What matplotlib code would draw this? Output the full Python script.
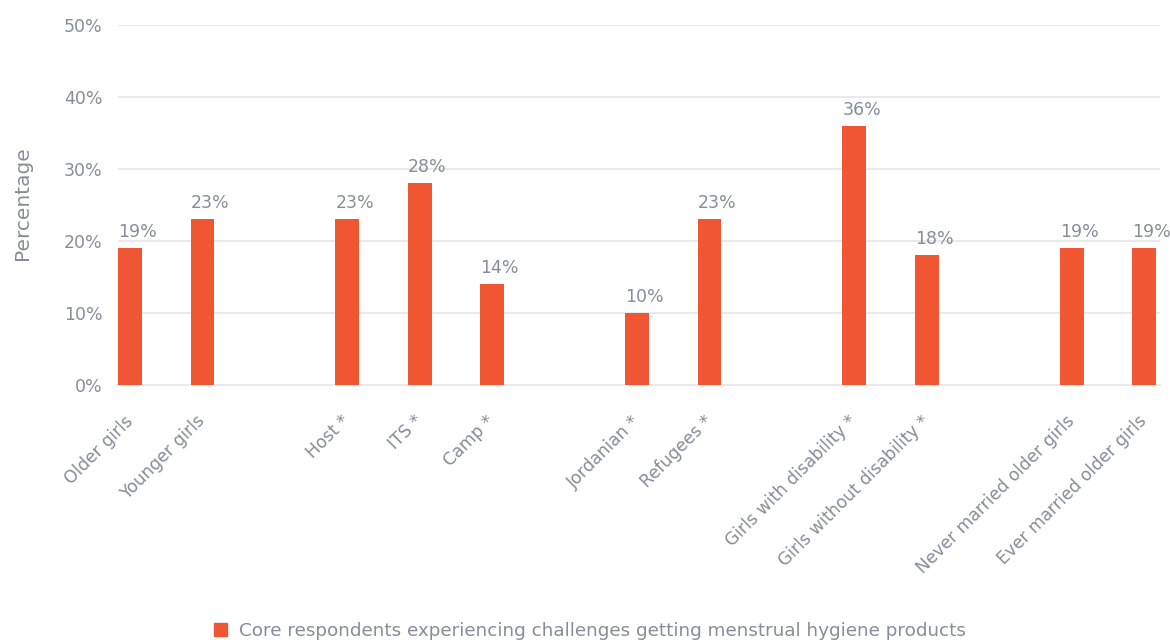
import matplotlib
matplotlib.use("Agg")
import matplotlib.pyplot as plt
from matplotlib.patches import Patch

plt.rcParams['font.family'] = ['DejaVu Sans']

categories = [
    "Older girls", "Younger girls",
    "Host *", "ITS *", "Camp *",
    "Jordanian *", "Refugees *",
    "Girls with disability *", "Girls without disability *",
    "Never married older girls", "Ever married older girls",
]
# Slot index of each bar; empty slots separate the groups
slots = [0, 1, 3, 4, 5, 7, 8, 10, 11, 13, 14]
values = [19, 23, 23, 28, 14, 10, 23, 36, 18, 19, 19]
y_ticks = [0, 10, 20, 30, 40, 50]
series_name = "Core respondents experiencing challenges getting menstrual hygiene products"

bar_color = "#f15633"
text_color = "#868d98"
grid_color = "#e9e9ec"

fig = plt.figure(figsize=(11.7, 6.42), dpi=100)
ax = fig.add_axes([0.1009, 0.4003, 0.8906, 0.5607])

width = 0.33
bars = ax.bar(slots, values, width=width, color=bar_color, zorder=3)

for b, v in zip(bars, values):
    ax.annotate(f"{v}%", xy=(b.get_x(), b.get_height()), xytext=(0, 8),
                textcoords="offset points", ha="left", va="baseline",
                fontsize=12.5, color=text_color)

ax.set_xlim(-0.166, 14.22)
ax.set_ylim(0, 50)
ax.set_yticks(y_ticks)
ax.set_yticklabels([f"{t}%" for t in y_ticks])
ax.yaxis.grid(True, color=grid_color, lw=1.4, zorder=0)
ax.set_axisbelow(True)

ax.set_xticks(slots)
ax.set_xticklabels(categories, rotation=45, ha="right", va="center",
                   rotation_mode="anchor", fontsize=12.3)

for s in ["top", "right", "left"]:
    ax.spines[s].set_visible(False)
ax.spines["bottom"].set_color(grid_color)
ax.spines["bottom"].set_linewidth(1.4)

ax.tick_params(axis="both", length=0, labelcolor=text_color)
ax.tick_params(axis="y", pad=11, labelsize=12.5)
ax.tick_params(axis="x", pad=24)

ax.set_ylabel("Percentage", fontsize=14.5, color=text_color)
ax.yaxis.set_label_coords(-0.083, 0.505)

fig.legend(handles=[Patch(color=bar_color, label=series_name)],
           loc="center", bbox_to_anchor=(0.504, 0.017), frameon=False,
           fontsize=13.2, labelcolor=text_color, handlelength=0.71,
           handleheight=0.71, handletextpad=0.65)

fig.savefig("out.png", dpi=100, facecolor="white")
